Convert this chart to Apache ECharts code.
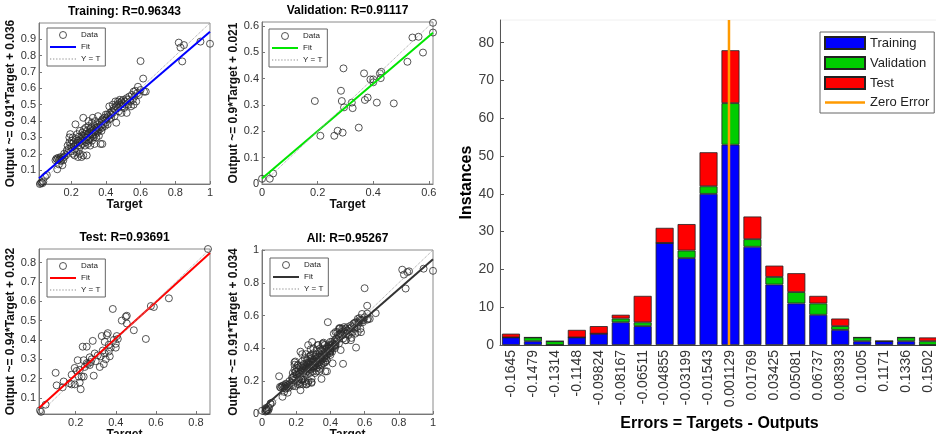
<!DOCTYPE html>
<html>
<head>
<meta charset="utf-8">
<script src="https://cdn.jsdelivr.net/npm/echarts@6/dist/echarts.min.js"></script>
<style>
  html, body { margin: 0; padding: 0; background: #fff; }
  #chart { width: 936px; height: 434px; }
</style>
</head>
<body>
<div id="chart"></div>
<script>
// ---- Regression data: [target, output] ----
const trainingPoints = [
  [0.02,0.015],[0.025,0.02],[0.03,0.025],[0.035,0.02],[0.04,0.03],[0.06,0.07],[0.05,0.06],
  [0.12,0.105],[0.11,0.16],[0.115,0.17],[0.12,0.165],[0.125,0.175],[0.13,0.16],[0.135,0.17],[0.14,0.18],
  [0.14,0.155],[0.145,0.165],[0.15,0.175],[0.155,0.16],[0.16,0.18],[0.16,0.2],[0.13,0.135],[0.15,0.13],
  [0.17,0.19],[0.175,0.22],[0.18,0.25],[0.18,0.205],[0.185,0.23],[0.19,0.27],[0.19,0.3],[0.195,0.32],
  [0.2,0.26],[0.2,0.215],[0.2,0.24],[0.205,0.28],[0.21,0.2],[0.21,0.3],[0.215,0.245],[0.215,0.27],
  [0.22,0.225],[0.22,0.19],[0.225,0.38],[0.225,0.255],[0.23,0.29],[0.23,0.21],[0.235,0.265],[0.235,0.32],
  [0.24,0.25],[0.24,0.28],[0.24,0.18],[0.245,0.305],[0.245,0.23],[0.25,0.27],[0.25,0.34],[0.25,0.2],
  [0.255,0.29],[0.255,0.25],[0.26,0.31],[0.26,0.28],[0.26,0.18],[0.265,0.33],[0.265,0.26],[0.27,0.42],
  [0.27,0.3],[0.27,0.19],[0.275,0.28],[0.275,0.35],[0.28,0.32],[0.28,0.3],[0.28,0.25],[0.285,0.36],
  [0.285,0.27],[0.29,0.34],[0.29,0.3],[0.29,0.19],[0.295,0.26],[0.295,0.32],[0.3,0.37],[0.3,0.31],
  [0.3,0.28],[0.3,0.4],
  [0.305,0.33],[0.305,0.29],[0.31,0.35],[0.31,0.3],[0.31,0.25],[0.315,0.36],[0.315,0.32],[0.32,0.39],
  [0.32,0.34],[0.32,0.28],[0.325,0.31],[0.325,0.42],[0.33,0.35],[0.33,0.33],[0.33,0.3],[0.335,0.37],
  [0.335,0.26],[0.34,0.34],[0.34,0.32],[0.34,0.4],[0.345,0.35],[0.345,0.3],[0.35,0.36],[0.35,0.38],
  [0.35,0.33],[0.355,0.43],[0.355,0.34],[0.36,0.36],[0.36,0.31],[0.365,0.39],[0.365,0.35],[0.37,0.37],
  [0.37,0.26],[0.375,0.4],[0.375,0.34],[0.38,0.41],[0.38,0.36],[0.38,0.26],[0.385,0.38],[0.39,0.42],
  [0.39,0.4],[0.395,0.37],[0.4,0.44],[0.4,0.41],[0.4,0.39],
  [0.405,0.42],[0.41,0.44],[0.41,0.38],[0.415,0.43],[0.42,0.49],[0.42,0.41],[0.425,0.45],[0.43,0.44],
  [0.43,0.42],[0.435,0.46],[0.44,0.45],[0.44,0.5],[0.445,0.48],[0.45,0.47],[0.45,0.43],[0.455,0.52],
  [0.46,0.49],[0.46,0.39],[0.465,0.5],[0.47,0.48],[0.47,0.52],[0.475,0.46],[0.48,0.51],[0.48,0.53],
  [0.485,0.5],[0.49,0.52],[0.49,0.45],[0.495,0.49],[0.5,0.53],[0.5,0.51],
  [0.505,0.48],[0.51,0.52],[0.515,0.5],[0.52,0.54],[0.52,0.45],[0.525,0.53],[0.53,0.5],[0.535,0.55],
  [0.54,0.52],[0.545,0.49],[0.55,0.56],[0.555,0.53],[0.56,0.58],[0.56,0.5],[0.565,0.55],[0.57,0.585],
  [0.575,0.52],[0.58,0.57],[0.585,0.61],[0.59,0.56],[0.6,0.767],[0.6,0.59],[0.615,0.66],[0.62,0.58],
  [0.63,0.58],
  [0.82,0.88],[0.83,0.85],[0.85,0.865],[0.84,0.765],[0.945,0.886],[1.0,0.873]
];
const validationPoints = [
  [0.0,0.02],[0.028,0.02],[0.04,0.04],[0.19,0.315],[0.21,0.183],[0.293,0.439],[0.284,0.354],
  [0.287,0.315],[0.295,0.291],[0.29,0.195],[0.272,0.202],[0.26,0.183],[0.323,0.309],[0.326,0.288],
  [0.348,0.214],[0.367,0.42],[0.37,0.319],[0.38,0.328],[0.39,0.397],[0.40,0.397],[0.40,0.386],
  [0.424,0.42],[0.427,0.402],[0.429,0.426],[0.413,0.309],[0.474,0.306],[0.523,0.464],[0.541,0.556],
  [0.563,0.559],[0.579,0.499],[0.615,0.612],[0.615,0.575]
];
const testPoints = [
  [0.022,0.036],[0.027,0.028],[0.05,0.065],[0.10,0.23],[0.105,0.165],[0.135,0.155],[0.14,0.185],
  [0.17,0.175],[0.18,0.22],[0.195,0.255],[0.195,0.17],[0.205,0.24],[0.21,0.295],[0.215,0.21],
  [0.22,0.18],[0.225,0.145],[0.23,0.21],[0.235,0.365],[0.24,0.295],[0.245,0.26],[0.255,0.365],
  [0.26,0.275],[0.27,0.31],[0.275,0.285],[0.285,0.395],[0.29,0.215],[0.295,0.33],[0.3,0.29],
  [0.32,0.26],[0.325,0.315],[0.33,0.42],[0.335,0.345],[0.34,0.275],[0.345,0.33],[0.35,0.3],
  [0.355,0.425],[0.36,0.435],[0.365,0.375],[0.37,0.315],[0.375,0.36],[0.385,0.56],[0.39,0.4],
  [0.4,0.36],[0.405,0.42],[0.41,0.405],[0.43,0.5],[0.45,0.52],[0.455,0.525],[0.455,0.485],
  [0.49,0.45],[0.55,0.405],[0.575,0.575],[0.59,0.57],[0.665,0.615],[0.86,0.87],[0.24,0.21],
  [0.18,0.17],[0.31,0.32],[0.365,0.34],[0.27,0.27],[0.22,0.245],[0.255,0.28],[0.345,0.39],
  [0.4,0.38],[0.28,0.3]
];
const allPoints = trainingPoints.concat(validationPoints, testPoints);

// Linear fits: [slope, intercept]
const fitTraining = [0.91, 0.036];
const fitValidation = [0.9, 0.021];
const fitTest = [0.94, 0.032];
const fitAll = [0.91, 0.034];
const rValues = ['0.96343', '0.91117', '0.93691', '0.95267'];

// Axis limits [min, max] and tick values
const rangeTraining = [0.015, 1];
const rangeValidation = [0, 0.615];
const rangeTest = [0.017, 0.87];
const rangeAll = [0, 1];
const ticksTrainingX = [0.2, 0.4, 0.6, 0.8, 1];
const ticksTrainingY = [0.1, 0.2, 0.3, 0.4, 0.5, 0.6, 0.7, 0.8, 0.9];
const ticksValidationX = [0, 0.2, 0.4, 0.6];
const ticksValidationY = [0, 0.1, 0.2, 0.3, 0.4, 0.5, 0.6];
const ticksTestX = [0.2, 0.4, 0.6, 0.8];
const ticksTestY = [0.1, 0.2, 0.3, 0.4, 0.5, 0.6, 0.7, 0.8];
const ticksAllX = [0, 0.2, 0.4, 0.6, 0.8, 1];
const ticksAllY = [0, 0.2, 0.4, 0.6, 0.8, 1];

// ---- Error histogram ----
const errorBins = ['-0.1645','-0.1479','-0.1314','-0.1148','-0.09824','-0.08167','-0.06511','-0.04855',
  '-0.03199','-0.01543','0.001129','0.01769','0.03425','0.05081','0.06737','0.08393','0.1005','0.1171',
  '0.1336','0.1502'];
const trainingCounts   = [2,1,0,2,3,6,5,27,23,40,53,26,16,11,8,4,1,1,1,0];
const validationCounts = [0,1,1,0,0,1,1,0,2,2,11,2,2,3,3,1,1,0,1,1];
const testCounts       = [1,0,0,2,2,1,7,4,7,9,14,6,3,5,2,2,0,0,0,1];
const instanceTicks = [0, 10, 20, 30, 40, 50, 60, 70, 80];
const instanceMax = 86;

const FONT = '"Liberation Sans", Arial, Helvetica, sans-serif';

// Legend icon shapes: plain strokes drawn as thin filled bars / dots
const ICON_SOLID = 'path://M0,0h26v2h-26z';
const ICON_DOTTED = 'path://M0,0h1.2v1h-1.2zM3,0h1.2v1h-1.2zM6,0h1.2v1h-1.2zM9,0h1.2v1h-1.2zM12,0h1.2v1h-1.2zM15,0h1.2v1h-1.2zM18,0h1.2v1h-1.2zM21,0h1.2v1h-1.2zM24,0h1.2v1h-1.2z';
const ICON_ZERO = 'path://M0,0h40v2.6h-40z';

const panels = [
  { name: 'Training', r: rValues[0], pts: trainingPoints, fit: fitTraining, color: '#0000ff',
    range: rangeTraining, xTicks: ticksTrainingX, yTicks: ticksTrainingY,
    box: { left: 39, top: 23, width: 171, height: 161 }, legend: { left: 47, top: 28 } },
  { name: 'Validation', r: rValues[1], pts: validationPoints, fit: fitValidation, color: '#00e600',
    range: rangeValidation, xTicks: ticksValidationX, yTicks: ticksValidationY,
    box: { left: 262, top: 22, width: 171, height: 162 }, legend: { left: 269, top: 29 } },
  { name: 'Test', r: rValues[2], pts: testPoints, fit: fitTest, color: '#ff0000',
    range: rangeTest, xTicks: ticksTestX, yTicks: ticksTestY,
    box: { left: 39, top: 249, width: 171, height: 165 }, legend: { left: 47, top: 259 } },
  { name: 'All', r: rValues[3], pts: allPoints, fit: fitAll, color: '#333333',
    range: rangeAll, xTicks: ticksAllX, yTicks: ticksAllY,
    box: { left: 262, top: 250, width: 171, height: 164 }, legend: { left: 270, top: 258 } }
];

const grids = [], xAxes = [], yAxes = [], series = [], legends = [], graphics = [];

panels.forEach((p, i) => {
  const [lo, hi] = p.range;
  const [a, b] = p.fit;
  grids.push(Object.assign({ show: true, borderColor: '#8a8a8a', borderWidth: 1, outerBoundsMode: 'none' }, p.box));
  const axisCommon = {
    type: 'value', gridIndex: i, min: lo, max: hi,
    axisLine: { show: true, onZero: false, lineStyle: { color: '#777', width: 1 } },
    splitLine: { show: false },
    nameLocation: 'middle',
    nameTextStyle: { fontFamily: FONT, fontWeight: 'bold', fontSize: 12, color: '#111' }
  };
  xAxes.push(Object.assign({}, axisCommon, {
    name: 'Target', nameGap: 13,
    axisTick: { inside: true, length: 3, lineStyle: { color: '#777' }, customValues: p.xTicks },
    axisLabel: { fontFamily: FONT, fontSize: 11, color: '#333', margin: 3, customValues: p.xTicks }
  }));
  yAxes.push(Object.assign({}, axisCommon, {
    name: 'Output ~= ' + a + '*Target + ' + b, nameGap: 19,
    axisTick: { inside: true, length: 3, lineStyle: { color: '#777' }, customValues: p.yTicks },
    axisLabel: { fontFamily: FONT, fontSize: 11, color: '#333', margin: 3, customValues: p.yTicks }
  }));
  series.push({
    name: p.name + '|Data', type: 'scatter', xAxisIndex: i, yAxisIndex: i,
    symbol: 'circle', symbolSize: 7, data: p.pts, z: 2,
    itemStyle: { color: 'rgba(0,0,0,0)', borderColor: '#2a2a2a', borderWidth: 1 },
    emphasis: { disabled: true }
  });
  series.push({
    name: p.name + '|Fit', type: 'line', xAxisIndex: i, yAxisIndex: i,
    symbol: 'none', data: [[lo, a * lo + b], [hi, a * hi + b]], z: 3,
    lineStyle: { color: p.color, width: 2 }, itemStyle: { color: p.color },
    emphasis: { disabled: true }
  });
  series.push({
    name: p.name + '|Y = T', type: 'line', xAxisIndex: i, yAxisIndex: i,
    symbol: 'none', data: [[lo, lo], [hi, hi]], z: 4,
    lineStyle: { color: '#a0a0a0', width: 1, type: 'dotted' }, itemStyle: { color: '#a0a0a0' },
    emphasis: { disabled: true }
  });
  legends.push({
    orient: 'vertical', left: p.legend.left, top: p.legend.top,
    itemWidth: 26, itemHeight: 7, itemGap: 4, padding: [3, 5, 3, 3],
    borderColor: '#666', borderWidth: 1, backgroundColor: '#fff', selectedMode: false,
    textStyle: { fontFamily: FONT, fontSize: 8, color: '#222' },
    formatter: n => n.split('|')[1],
    data: [
      { name: p.name + '|Data', icon: 'circle',
        itemStyle: { color: 'rgba(0,0,0,0)', borderColor: '#2a2a2a', borderWidth: 1 } },
      { name: p.name + '|Fit', icon: ICON_SOLID, itemStyle: { color: p.color, borderWidth: 0 } },
      { name: p.name + '|Y = T', icon: ICON_DOTTED, itemStyle: { color: '#8a8a8a', borderWidth: 0 } }
    ]
  });
  graphics.push({
    type: 'text',
    x: p.box.left + p.box.width / 2, y: p.box.top - 11,
    style: {
      text: p.name + ': R=' + p.r, font: 'bold 12px ' + FONT, fill: '#000',
      align: 'center', verticalAlign: 'middle', textAlign: 'center', textVerticalAlign: 'middle'
    }
  });
});

// Histogram grid (index 4); its right edge runs slightly past the canvas
const hBox = { left: 500, top: 20, width: 439, height: 325 };
grids.push(Object.assign({ show: true, borderColor: '#f0f0f0', borderWidth: 1, outerBoundsMode: 'none' }, hBox));

const firstCenter = parseFloat(errorBins[0]);
const lastCenter = parseFloat(errorBins[errorBins.length - 1]);
const binWidth = (lastCenter - firstCenter) / (errorBins.length - 1);

xAxes.push({
  type: 'category', gridIndex: 4, data: errorBins,
  axisLine: { show: true, onZero: false, lineStyle: { color: '#444', width: 1 } },
  axisTick: { show: false },
  axisLabel: { rotate: 90, interval: 0, fontFamily: FONT, fontSize: 14, color: '#333', margin: 5 },
  name: 'Errors = Targets - Outputs', nameLocation: 'middle', nameGap: 64,
  nameTextStyle: { fontFamily: FONT, fontWeight: 'bold', fontSize: 16, color: '#000' }
});
// Continuous error scale over the same grid, used for the zero-error marker
xAxes.push({
  type: 'value', gridIndex: 4, show: false,
  min: firstCenter - binWidth / 2, max: lastCenter + binWidth / 2
});
yAxes.push({
  type: 'value', gridIndex: 4, min: 0, max: instanceMax,
  axisLine: { show: true, onZero: false, lineStyle: { color: '#555', width: 1 } },
  axisTick: { inside: true, length: 4, lineStyle: { color: '#555' }, customValues: instanceTicks },
  axisLabel: { fontFamily: FONT, fontSize: 14, color: '#404040', margin: 6, customValues: instanceTicks },
  splitLine: { show: false },
  name: 'Instances', nameLocation: 'middle', nameGap: 24,
  nameTextStyle: { fontFamily: FONT, fontWeight: 'bold', fontSize: 16, color: '#000' }
});

const barSets = [
  ['Training', trainingCounts, '#0000ff'],
  ['Validation', validationCounts, '#00cc00'],
  ['Test', testCounts, '#ff0000']
];
barSets.forEach(([name, vals, color]) => {
  series.push({
    name, type: 'bar', stack: 'errors', xAxisIndex: 4, yAxisIndex: 4,
    data: vals, barCategoryGap: '18%',
    itemStyle: { color, borderColor: '#222', borderWidth: 0.8 },
    emphasis: { disabled: true }
  });
});
series.push({
  name: 'Zero Error', type: 'line', xAxisIndex: 5, yAxisIndex: 4,
  symbol: 'none', data: [[0, 0], [0, instanceMax]], z: 5,
  lineStyle: { color: '#ff9a00', width: 2.5 }, itemStyle: { color: '#ff9a00' },
  emphasis: { disabled: true }
});
legends.push({
  orient: 'vertical', left: 820, top: 32,
  itemWidth: 40, itemHeight: 12, itemGap: 6, padding: [4, 5, 4, 4],
  borderColor: '#666', borderWidth: 1, backgroundColor: '#fff', selectedMode: false,
  textStyle: { fontFamily: FONT, fontSize: 13, color: '#222' },
  data: [
    { name: 'Training', icon: 'rect' },
    { name: 'Validation', icon: 'rect' },
    { name: 'Test', icon: 'rect' },
    { name: 'Zero Error', icon: ICON_ZERO, itemStyle: { color: '#ff9a00', borderWidth: 0 } }
  ]
});

const chart = echarts.init(document.getElementById('chart'), null, { renderer: 'canvas' });
chart.setOption({
  animation: false,
  backgroundColor: '#fff',
  textStyle: { fontFamily: FONT },
  grid: grids,
  xAxis: xAxes,
  yAxis: yAxes,
  legend: legends,
  series: series,
  graphic: graphics
});
</script>
</body>
</html>
